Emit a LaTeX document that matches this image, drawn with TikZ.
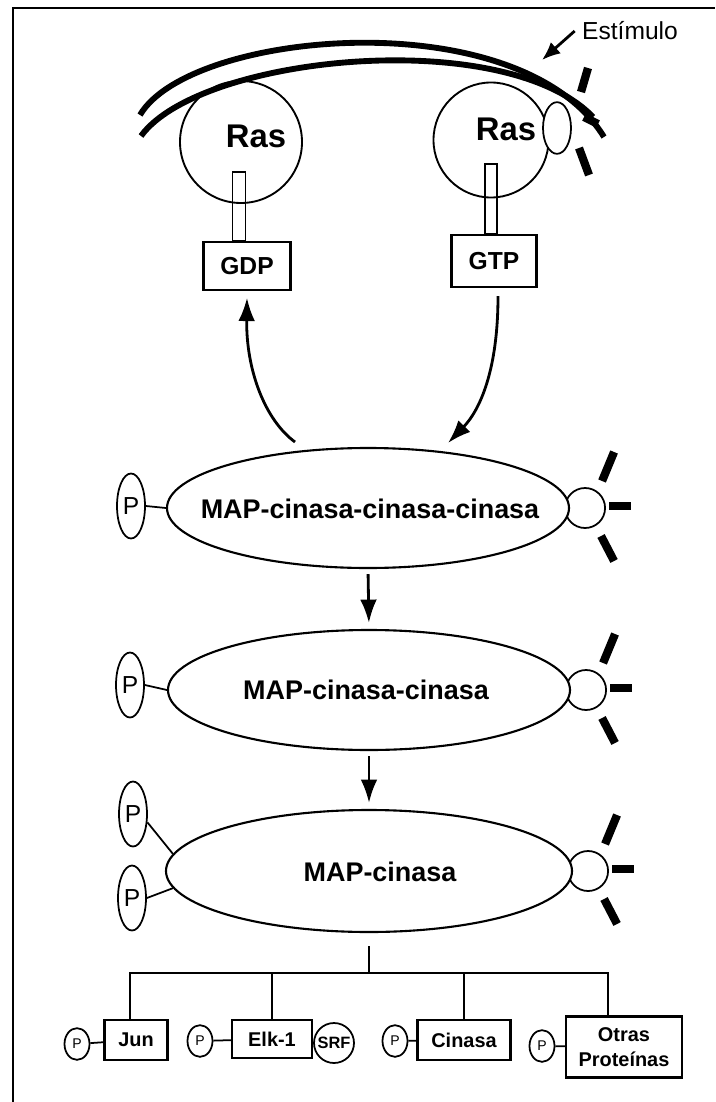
\documentclass[tikz,border=0pt]{standalone}
\usepackage{fontspec}
\setmainfont{Liberation Sans}
\usetikzlibrary{shapes.geometric,arrows.meta,backgrounds}
\tikzset{
  cinasa/.style={ellipse, draw, line width=1.8pt, fill=white, minimum width=12.06cm, minimum height=3.6cm, inner sep=0pt},
  rotulo/.style={font=\bfseries\fontsize{23}{25}\selectfont},
  fosfo/.style={ellipse, draw, line width=1.5pt, minimum width=0.84cm, minimum height=1.95cm, inner sep=0pt, font=\fontsize{21}{23}\selectfont},
  bola/.style={circle, draw, line width=1.5pt, minimum size=1.2cm, inner sep=0pt},
  raya/.style={line width=7pt},
  caja/.style={draw, line width=1.8pt, inner sep=0pt, font=\bfseries\fontsize{17}{20}\selectfont},
  fosfochico/.style={ellipse, draw, line width=1.5pt, minimum width=0.75cm, minimum height=0.95cm, inner sep=0pt, font=\fontsize{12}{14}\selectfont},
  rama/.style={line width=2.4pt},
}
\begin{document}
\begin{tikzpicture}[x=0.03cm,y=-0.03cm,>={Latex[length=0.7cm,width=0.5cm]}]
\useasboundingbox (0,0) rectangle (715,1102);
\draw [line width=2.5pt] (13,1102) -- (13,8) -- (715,8);
\node [circle, draw, line width=1.6pt, minimum size=3.66cm] (ras1) at (241,142) {};
\node [circle, draw, line width=1.6pt, minimum size=3.45cm] (ras2) at (491,140) {};
\node [ellipse, draw, line width=1.5pt, minimum width=0.84cm, minimum height=1.55cm, fill=white] (rec) at (557,128) {};
\node [font=\bfseries\fontsize{28}{30}\selectfont] (ras1t) at (256,136) {Ras};
\node [font=\bfseries\fontsize{28}{30}\selectfont] (ras2t) at (506,129) {Ras};
\draw [line width=5pt] (140,115) .. controls (190,30) and (520,0) .. (604,137);
\draw [line width=5pt] (141,136) .. controls (200,55) and (505,25) .. (593,117);
\draw [raya] ([shift={(31,-60)}]rec.center) -- ([shift={(24,-36)}]rec.center);
\draw [raya] ([shift={(27,-11)}]rec.center) -- ([shift={(41,-4)}]rec.center);
\draw [raya] ([shift={(22,20)}]rec.center) -- ([shift={(32,47)}]rec.center);
\node [font=\fontsize{21}{23}\selectfont] (stim) at (630,31) {Estímulo};
\coordinate (stimhit) at (542,60);
\draw [-{Latex[length=0.55cm,width=0.45cm]}, line width=2.4pt] ([xshift=-0.1cm]stim.west) -- (stimhit);
\node [caja, minimum width=2.61cm, minimum height=1.44cm, font=\bfseries\fontsize{21}{23}\selectfont] (gdp) at (247,266) {GDP};
\node [caja, minimum width=2.55cm, minimum height=1.56cm, font=\bfseries\fontsize{21}{23}\selectfont] (gtp) at (494,261) {GTP};
\draw [line width=1.4pt] ([xshift=-0.44cm]gdp.north) rectangle ([xshift=-0.05cm,yshift=2.07cm]gdp.north);
\draw [line width=1.4pt] ([xshift=-0.27cm]gtp.north) rectangle ([xshift=0.09cm,yshift=2.1cm]gtp.north);
\node [cinasa] (k1) at (368,508) {};
\node [cinasa] (k2) at (369,690) {};
\node [cinasa, minimum width=12.18cm, minimum height=3.66cm] (k3) at (369,871) {};
\node [rotulo] (k1t) at (370,509) {MAP-cinasa-cinasa-cinasa};
\node [rotulo] (k2t) at (366,690) {MAP-cinasa-cinasa};
\node [rotulo] (k3t) at (380,872) {MAP-cinasa};
\begin{scope}[on background layer]
\node [bola] (b1) at ([xshift=0.45cm]k1.east) {};
\node [bola] (b2) at ([xshift=0.45cm]k2.east) {};
\node [bola] (b3) at ([xshift=0.45cm]k3.east) {};
\end{scope}
\foreach \b in {b1,b2,b3}{
  \draw [raya] ([shift={(29,-56)}]\b.center) -- ([shift={(17,-27)}]\b.center);
  \draw [raya] ([shift={(24,-2)}]\b.center) -- ([shift={(46,-2)}]\b.center);
  \draw [raya] ([shift={(16,28)}]\b.center) -- ([shift={(29,53)}]\b.center);
}
\node [fosfo] (p1) at (131,506) {P};
\node [fosfo] (p2) at (130,685) {P};
\node [fosfo] (p3a) at (133,814) {P};
\node [fosfo] (p3b) at (132,898) {P};
\draw [line width=1.5pt] (p1.east) -- (k1.west);
\draw [line width=1.5pt] (p2.east) -- (k2.west);
\draw [line width=1.5pt] (p3a.-30) -- (k3.175);
\draw [line width=1.5pt] (p3b.0) -- (k3.185);
\coordinate (gdpstart) at (295,442);
\draw [->, line width=2.4pt] (gdpstart) .. controls (265,420) and (246,370) .. ([yshift=-0.2cm]gdp.south);
\coordinate (gtphit) at (448,443);
\draw [->, line width=2.4pt] ([xshift=0.12cm,yshift=-0.24cm]gtp.south) .. controls (498,370) and (480,410) .. (gtphit);
\draw [->, line width=2.4pt, shorten <=0.15cm, shorten >=0.18cm] (k1.south) -- (k2.north);
\draw [->, line width=2.4pt, shorten <=0.15cm, shorten >=0.18cm] (k2.south) -- (k3.north);
\node [fosfochico] (pj) at (77,1044) {P};
\node [caja, minimum width=1.89cm, minimum height=1.2cm] (jun) at (136,1040) {Jun};
\node [fosfochico] (pe) at (200,1041) {P};
\node [caja, minimum width=2.4cm, minimum height=1.14cm] (elk) at (272,1039) {Elk-1};
\node [circle, draw, line width=1.5pt, minimum size=1.2cm, inner sep=0pt, font=\bfseries\fontsize{14}{16}\selectfont] (srf) at (334,1043) {SRF};
\node [fosfochico] (pc) at (395,1041) {P};
\node [caja, minimum width=2.79cm, minimum height=1.2cm] (cin) at (464,1040) {Cinasa};
\node [fosfochico] (po) at (542,1046) {P};
\node [caja, minimum width=3.48cm, minimum height=1.83cm, align=center, font=\bfseries\fontsize{17}{21}\selectfont] (otras) at (624,1047) {Otras\\Proteínas};
\draw [line width=1.5pt] (pj) -- (jun);
\draw [line width=1.5pt] (pe) -- (elk);
\draw [line width=1.5pt] (pc) -- (cin);
\draw [line width=1.5pt] (po) -- (otras);
\coordinate (hub) at (369,973);
\draw [rama] ([yshift=-0.39cm]k3.south) -- (hub);
\draw [rama] ([xshift=-0.18cm]jun.north) |- ([xshift=-0.48cm]otras.north |- hub) -- ([xshift=-0.48cm]otras.north);
\draw [rama] (elk.north) -- (elk.north |- hub);
\draw [rama] (cin.north) -- (cin.north |- hub);
\end{tikzpicture}
\end{document}
